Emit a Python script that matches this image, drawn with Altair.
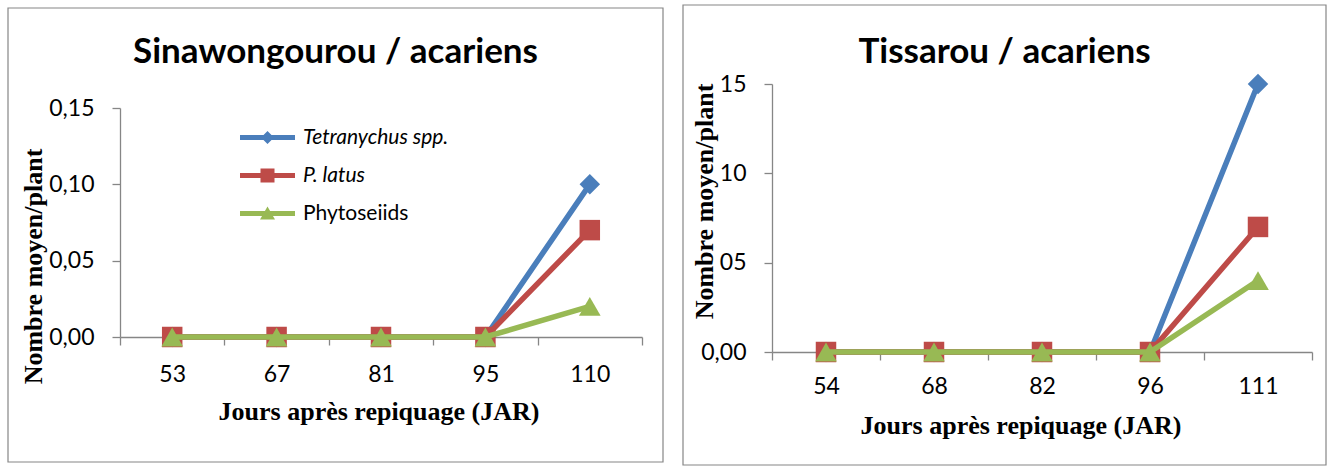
import altair as alt
import pandas as pd

# Series shared by both panels
SERIES = ["Tetranychus spp.", "P. latus", "Phytoseiids"]
COLORS = ["#4A7EBB", "#BE4B48", "#98B954"]
SHAPES = ["diamond", "square", "triangle-up"]
SIZES = [420, 420, 470]

# Sinawongourou: days after transplanting and mean count per plant
JOURS_SINA = ["53", "67", "81", "95", "110"]
SINA_TETRA = [0, 0, 0, 0, 0.10]
SINA_LATUS = [0, 0, 0, 0, 0.07]
SINA_PHYTO = [0, 0, 0, 0, 0.02]

# Tissarou
JOURS_TISS = ["54", "68", "82", "96", "111"]
TISS_TETRA = [0, 0, 0, 0, 15]
TISS_LATUS = [0, 0, 0, 0, 7]
TISS_PHYTO = [0, 0, 0, 0, 4]

# legend symbols: a short line segment with the series marker on it
LEGEND_SYMBOLS = [
    "M-2.75,-0.25L2.75,-0.25L2.75,0.25L-2.75,0.25Z M0,-0.65L0.65,0L0,0.65L-0.65,0Z",
    "M-2.75,-0.25L2.75,-0.25L2.75,0.25L-2.75,0.25Z M-0.7,-0.7L0.7,-0.7L0.7,0.7L-0.7,0.7Z",
    "M-2.75,-0.25L2.75,-0.25L2.75,0.25L-2.75,0.25Z M0,-0.7L0.75,0.6L-0.75,0.6Z",
]

AXIS_GREY = "#868686"
TICK_FONT = "Lato"
SERIF = "Liberation Serif"


def long_table(jours, series_values):
    rows = []
    for name, vals in zip(SERIES, series_values):
        for j, v in zip(jours, vals):
            rows.append({"jour": j, "serie": name, "valeur": v})
    return pd.DataFrame(rows)


def panel(jours, series_values, ymax, yticks, ylabels, title, width, height, yrange,
          frame, title_xy, ytitle_xy, xtitle_xy, xlabel_pad, show_legend):
    df = long_table(jours, series_values)
    base = alt.Chart(df)

    x = alt.X(
        "jour:O", sort=jours, bandPosition=0.5,
        scale=alt.Scale(type="band", paddingInner=0, paddingOuter=0),
        axis=alt.Axis(
            title="Jours après repiquage (JAR)", tickBand="extent",
            labelAngle=0, labelFont=TICK_FONT, labelFontSize=23, labelColor="black",
            labelPadding=xlabel_pad, tickSize=8, tickColor=AXIS_GREY, domainColor=AXIS_GREY,
            domainWidth=1.3, tickWidth=1.3,
            titleFont=SERIF, titleFontSize=26, titleFontWeight="bold", titleColor="black",
            titleX=xtitle_xy[0], titleY=xtitle_xy[1], titleBaseline="alphabetic",
            titleAlign="center",
        ),
    )
    y = alt.Y(
        "valeur:Q",
        scale=alt.Scale(domain=[0, ymax], nice=False, zero=True, range=yrange),
        axis=alt.Axis(
            title="Nombre moyen/plant", values=yticks, labelExpr=ylabels,
            grid=False, labelFont=TICK_FONT, labelFontSize=23, labelColor="black",
            labelPadding=18, tickSize=8, tickColor=AXIS_GREY, domainColor=AXIS_GREY,
            domainWidth=1.3, tickWidth=1.3,
            titleFont=SERIF, titleFontSize=26, titleFontWeight="bold", titleColor="black",
            titleAngle=-90, titleX=ytitle_xy[0], titleY=ytitle_xy[1],
            titleBaseline="alphabetic", titleAlign="center",
        ),
    )

    layers = []
    # frame around the whole panel
    deco = alt.Chart(pd.DataFrame({"t": [title]}))
    layers.append(
        deco.mark_rect(fillOpacity=0, stroke=AXIS_GREY, strokeWidth=1.2).encode(
            x=alt.value(frame[0]), x2=alt.value(frame[1]),
            y=alt.value(frame[2]), y2=alt.value(frame[3]),
        )
    )
    layers.append(
        deco.mark_text(font="Lato", fontSize=35, fontWeight="bold", color="black",
                       align="center", baseline="middle").encode(
            x=alt.value(title_xy[0]), y=alt.value(title_xy[1]), text="t:N"
        )
    )

    # one line + markers per series, drawn in series order
    for name, col, shp, sz in zip(SERIES, COLORS, SHAPES, SIZES):
        sub = base.transform_filter(alt.datum.serie == name)
        layers.append(sub.mark_line(color=col, strokeWidth=5.5).encode(x=x, y=y))
        layers.append(
            sub.mark_point(shape=shp, filled=True, color=col, size=sz, opacity=1).encode(x=x, y=y)
        )

    if show_legend:
        leg = alt.Legend(
            title=None, orient="none", legendX=137, legendY=43, padding=0,
            symbolSize=400, symbolOpacity=1, symbolStrokeWidth=0,
            rowPadding=16, labelOffset=25, labelFont=TICK_FONT, labelFontSize=21,
            labelColor="black",
            labelFontStyle=alt.ExprRef("datum.label == 'Phytoseiids' ? 'normal' : 'italic'"),
        )
        layers.append(
            base.transform_filter("false").mark_point(filled=True, opacity=1).encode(
                x=x, y=y,
                color=alt.Color("serie:N", scale=alt.Scale(domain=SERIES, range=COLORS), legend=leg),
                shape=alt.Shape("serie:N", scale=alt.Scale(domain=SERIES, range=LEGEND_SYMBOLS), legend=leg),
            )
        )

    return alt.layer(*layers).properties(width=width, height=height)


# both panels share the same plot origin row; the left value axis starts lower
left = panel(
    JOURS_SINA, [SINA_TETRA, SINA_LATUS, SINA_PHYTO], 0.15, [0, 0.05, 0.10, 0.15],
    "replace(format(datum.value, '.2f'), '.', ',')",
    "Sinawongourou / acariens", 522, 253, [253, 24],
    frame=(-112, 543, -76, 378), title_xy=(215.5, -32),
    ytitle_xy=(-79, 182), xtitle_xy=(258.5, 82), xlabel_pad=18, show_legend=True,
)

right = panel(
    JOURS_TISS, [TISS_TETRA, TISS_LATUS, TISS_PHYTO], 15, [0, 5, 10, 15],
    "datum.value == 0 ? '0,00' : format(datum.value, '02d')",
    "Tissarou / acariens", 540, 268, [268, 0],
    frame=(-89, 554, -79, 381), title_xy=(232.5, -32),
    ytitle_xy=(-60, 117), xtitle_xy=(248.5, 81), xlabel_pad=15, show_legend=False,
)

chart = (
    alt.hconcat(left, right, spacing=18)
    .properties(padding={"left": 7, "top": 4, "right": 0, "bottom": 0}, background="white")
    .configure_view(stroke=None)
)

chart.save("out.html", embed_options={"renderer": "svg", "actions": False})
